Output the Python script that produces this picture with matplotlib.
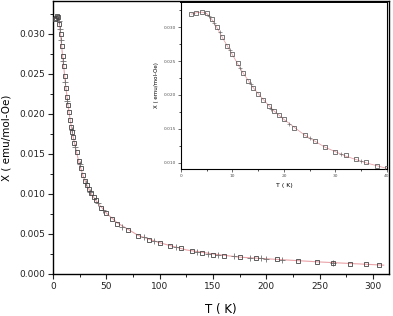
import matplotlib.pyplot as plt
from matplotlib.ticker import MultipleLocator, FormatStrFormatter

# temperature (K) and molar susceptibility (emu/mol-Oe)
T_sq = [2, 3, 4, 5, 6, 7, 8, 9, 10, 11, 12, 13, 14, 15, 16, 17, 18, 19, 20,
        22, 24, 26, 28, 30, 32, 34, 36, 38, 40, 45, 50, 55, 60, 70, 80, 90,
        100, 110, 120, 130, 140, 150, 160, 175, 190, 210, 230, 247, 262, 278,
        293, 306]
chi_sq = [0.0319, 0.0320, 0.0322, 0.0321, 0.0312, 0.0300, 0.0285, 0.0272,
          0.0260, 0.0247, 0.0232, 0.0221, 0.0211, 0.0202, 0.0192, 0.0184,
          0.0177, 0.0171, 0.0164, 0.0152, 0.0141, 0.0132, 0.0123, 0.0116,
          0.0111, 0.0106, 0.0101, 0.0096, 0.0092, 0.0083, 0.0076, 0.0069,
          0.0063, 0.0055, 0.0048, 0.0043, 0.0039, 0.0035, 0.0032, 0.0029,
          0.0026, 0.0024, 0.0023, 0.0021, 0.0020, 0.0019, 0.0016, 0.0015,
          0.0014, 0.0013, 0.0012, 0.0011]

T_fit = [2, 3, 4, 5, 6, 7, 8, 10, 12, 14, 16, 18, 20, 24, 28, 32, 36, 40,
         50, 60, 80, 100, 125, 150, 175, 200, 250, 310]
chi_fit = [0.0319, 0.0321, 0.0322, 0.0320, 0.0311, 0.0299, 0.0285, 0.0259,
           0.0233, 0.0211, 0.0193, 0.0177, 0.0164, 0.0141, 0.0123, 0.0110,
           0.0100, 0.0092, 0.0076, 0.0064, 0.0048, 0.0039, 0.0030, 0.0025,
           0.0021, 0.0019, 0.0015, 0.0011]

T_plus = [5.5, 6.5, 7.5, 9.5, 11.5, 13.5, 17.5, 21, 25, 31, 35, 42, 47, 65,
          85, 95, 115, 135, 145, 155, 170, 185, 195, 200, 215, 262]
chi_plus = [0.0316, 0.0306, 0.0292, 0.0266, 0.0240, 0.0216, 0.0180, 0.0158,
            0.0137, 0.0113, 0.0103, 0.0089, 0.0080, 0.0059, 0.0046, 0.0041,
            0.0034, 0.0028, 0.0025, 0.0024, 0.0022, 0.0020, 0.0020, 0.0019,
            0.0018, 0.0014]

fit_col = '#e9a3a8'
sq_col = '#444444'

fig = plt.figure(figsize=(3.93, 3.16), dpi=100)
ax = fig.add_axes([0.135, 0.133, 0.855, 0.864])

ax.plot(T_fit, chi_fit, color=fit_col, lw=0.8, zorder=2)
ax.plot(T_plus, chi_plus, ls='none', marker='+', ms=4, mew=0.6,
        color='#707070', zorder=3)
ax.plot(T_sq, chi_sq, ls='none', marker='s', ms=3.2, mew=0.6,
        mfc='none', mec=sq_col, zorder=4)

ax.set_xlim(0, 315)
ax.set_ylim(0, 0.0341)
ax.xaxis.set_major_locator(MultipleLocator(50))
ax.xaxis.set_minor_locator(MultipleLocator(25))
ax.yaxis.set_major_locator(MultipleLocator(0.005))
ax.yaxis.set_minor_locator(MultipleLocator(0.0025))
ax.yaxis.set_major_formatter(FormatStrFormatter('%.3f'))
ax.tick_params(which='major', direction='out', length=3.5, width=0.8,
               labelsize=6.5, pad=2, colors='#222222')
ax.tick_params(which='minor', direction='out', length=2, width=0.6)
for s in ax.spines.values():
    s.set_linewidth(1.0)
ax.set_xlabel('T ( K)', fontsize=8.5, labelpad=9)
ax.set_ylabel('X ( emu/mol-Oe)', fontsize=7.5, labelpad=6)

# inset: low temperature region
ins = fig.add_axes([0.4606, 0.465, 0.524, 0.529])
ins.plot(T_fit, chi_fit, color=fit_col, lw=0.6, zorder=2)
ins.plot(T_plus, chi_plus, ls='none', marker='+', ms=3, mew=0.5,
         color='#707070', zorder=3)
ins.plot(T_sq, chi_sq, ls='none', marker='s', ms=2.4, mew=0.5,
         mfc='none', mec=sq_col, zorder=4)
ins.set_xlim(0, 40)
ins.set_ylim(0.0091, 0.0337)
ins.xaxis.set_major_locator(MultipleLocator(10))
ins.xaxis.set_minor_locator(MultipleLocator(5))
ins.yaxis.set_major_locator(MultipleLocator(0.005))
ins.yaxis.set_minor_locator(MultipleLocator(0.0025))
ins.yaxis.set_major_formatter(FormatStrFormatter('%.3f'))
ins.tick_params(which='major', direction='out', length=2, width=0.6,
                labelsize=3.2, pad=1.5, colors='#555555')
ins.tick_params(which='minor', direction='out', length=1.2, width=0.5)
for s in ins.spines.values():
    s.set_linewidth(0.8)
ins.spines['top'].set_linewidth(1.4)
ins.set_xlabel('T ( K)', fontsize=4.5, labelpad=4)
ins.set_ylabel('X ( emu/mol-Oe)', fontsize=4, labelpad=3)

fig.savefig('out.png', dpi=100)
